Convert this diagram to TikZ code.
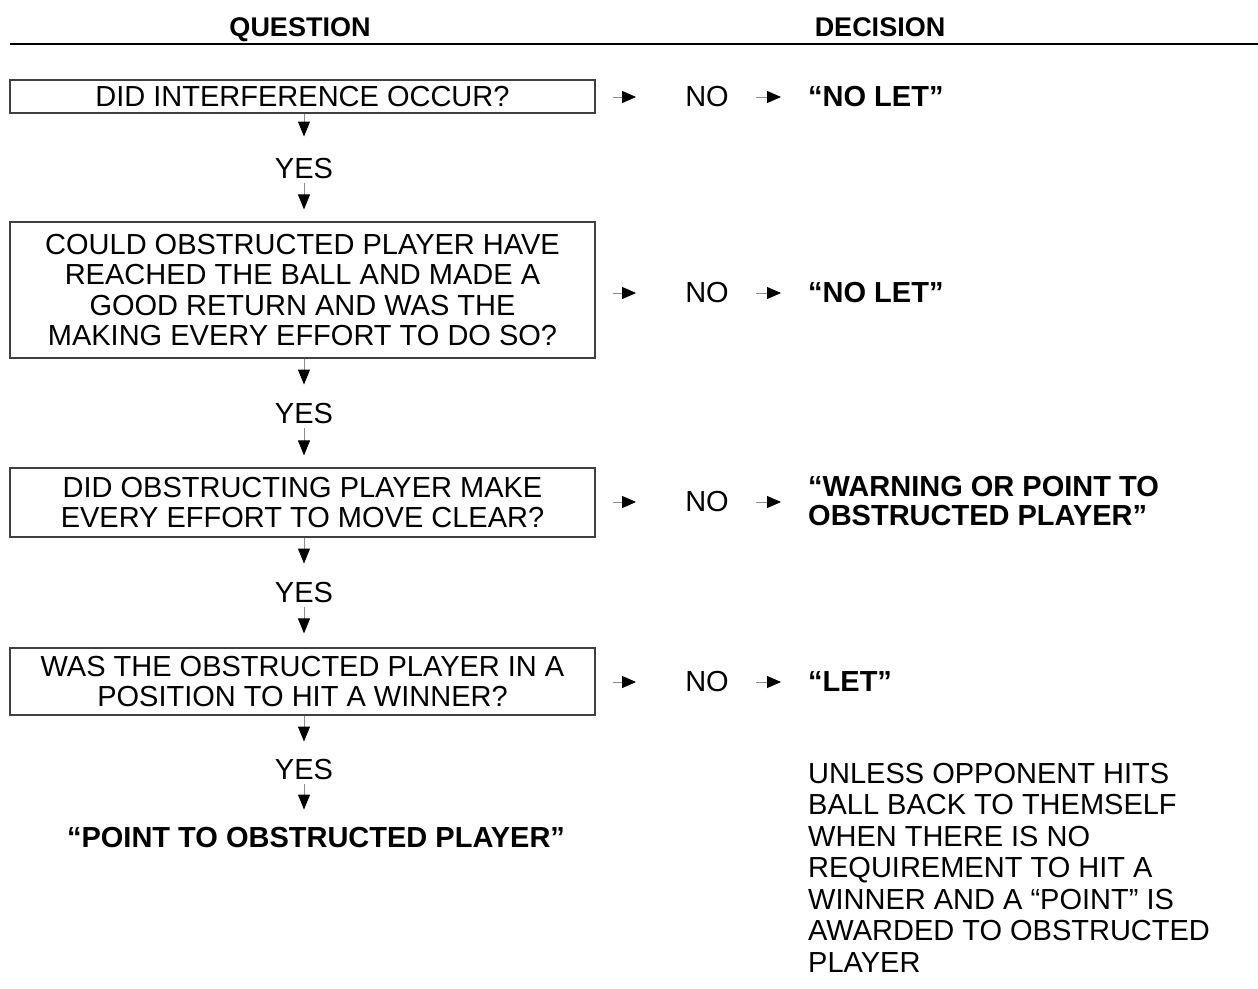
\documentclass[tikz,border=0pt]{standalone}
\usepackage{fontspec}
\setmainfont{Liberation Sans}
\usetikzlibrary{arrows.meta}
\begin{document}
\begin{tikzpicture}[x=1pt,y=-1pt,
  qbox/.style={draw=black!75, line width=1.2pt, rectangle, minimum width=585pt, inner sep=0pt, align=center,
    font=\fontsize{29}{30.6}\selectfont},
  lbl/.style={inner sep=0pt, font=\fontsize{29}{30.6}\selectfont},
  dec/.style={inner sep=0pt, anchor=west, align=left, font=\fontsize{29}{29.5}\selectfont\bfseries},
  hdr/.style={inner sep=0pt, anchor=base, font=\fontsize{27}{30}\selectfont\bfseries},
  varrow/.style={draw=black!45, line width=1pt, -{Triangle[length=15pt,width=12pt,color=black]}},
  harrow/.style={draw=black!45, line width=1pt, -{Triangle[length=14pt,width=12pt,color=black]}}
]
\useasboundingbox (0,0) rectangle (1258,988);
% header
\node[hdr] (hq) at (300,36.5) {QUESTION};
\node[hdr] (hd) at (880,36.5) {DECISION};
\coordinate (hl0) at (10,44);
\coordinate (hl1) at (595,44);
\coordinate (hl2) at (1258,44);
\draw[line width=2pt] (hl0) -- (hl1);
\draw[line width=1.3pt] (hl1) -- (hl2);

% question boxes
\node[qbox, minimum height=33pt] (q1) at (302.5,96.5) {DID INTERFERENCE OCCUR?};
\node[qbox, minimum height=136pt] (q2) at (302.5,290) {COULD OBSTRUCTED PLAYER HAVE\\REACHED THE BALL AND MADE A\\GOOD RETURN AND WAS THE\\MAKING EVERY EFFORT TO DO SO?};
\node[qbox, minimum height=69pt] (q3) at (302.5,502.5) {DID OBSTRUCTING PLAYER MAKE\\EVERY EFFORT TO MOVE CLEAR?};
\node[qbox, minimum height=67pt] (q4) at (302.5,681.5) {WAS THE OBSTRUCTED PLAYER IN A\\POSITION TO HIT A WINNER?};

% YES labels
\node[lbl] (y1) at (304,169) {YES};
\node[lbl] (y2) at (304,414) {YES};
\node[lbl] (y3) at (304,593) {YES};
\node[lbl] (y4) at (304,770) {YES};
\node[dec, anchor=center] (fin) at (316,838) {“POINT TO OBSTRUCTED PLAYER”};

% vertical arrows
\draw[varrow, shorten >=22pt] (q1.south -| y1) -- (y1.north);
\draw[varrow, shorten <=4pt, shorten >=12pt] (y1.south) -- (y1.south |- q2.north);
\draw[varrow, shorten >=19pt] (q2.south -| y2) -- (y2.north);
\draw[varrow, shorten <=4pt, shorten >=12pt] (y2.south) -- (y2.south |- q3.north);
\draw[varrow, shorten >=19pt] (q3.south -| y3) -- (y3.north);
\draw[varrow, shorten <=4pt, shorten >=14pt] (y3.south) -- (y3.south |- q4.north);
\draw[varrow, shorten >=18pt] (q4.south -| y4) -- (y4.north);
\draw[varrow, shorten <=4pt, shorten >=18pt] (y4.south) -- (y4.south |- fin.north);

% NO labels and decisions
\node[lbl] (n1) at (707,97) {NO};
\node[lbl] (n2) at (707,293) {NO};
\node[lbl] (n3) at (707,502) {NO};
\node[lbl] (n4) at (707,682) {NO};
\node[dec] (d1) at (808,97) {“NO LET”};
\node[dec] (d2) at (808,293) {“NO LET”};
\node[dec] (d3) at (808,501) {“WARNING OR POINT TO\\OBSTRUCTED PLAYER”};
\node[dec] (d4) at (808,682) {“LET”};
\node[inner sep=0pt, anchor=west, align=left, font=\fontsize{29}{31.5}\selectfont] (note) at (808,867.5)
  {UNLESS OPPONENT HITS\\BALL BACK TO THEMSELF\\WHEN THERE IS NO\\REQUIREMENT TO HIT A\\WINNER AND A “POINT” IS\\AWARDED TO OBSTRUCTED\\PLAYER};

% horizontal arrows
\foreach \i in {1,2,3,4}{
  \draw[harrow, shorten <=17pt, shorten >=49pt] (q\i.east |- n\i) -- (n\i.west);
  \draw[harrow, shorten <=27pt, shorten >=27pt] (n\i.east) -- (d\i.west |- n\i);
}
\end{tikzpicture}
\end{document}
